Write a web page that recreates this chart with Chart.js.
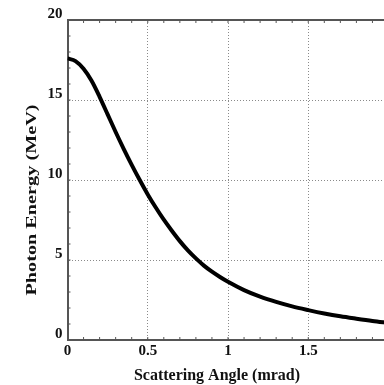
<!DOCTYPE html>
<html lang="en">

<head>
    <meta charset="UTF-8">
    <title>Photon Energy vs Scattering Angle</title>
    <style>
        html, body { margin: 0; padding: 0; background: #fff; overflow: hidden; }
        .grafico { position: relative; width: 400px; height: 385px; }
    </style>
</head>

<body>
    <div class="grafico">
        <canvas id="myChart"></canvas>
    </div>

    <script src="https://cdn.jsdelivr.net/npm/chart.js"></script>

    <script>
        // angulo de espalhamento (mrad) e energia do foton (MeV)
        const angulos = [0, 0.05, 0.1, 0.15, 0.2, 0.25, 0.3, 0.35, 0.4, 0.45, 0.5, 0.55, 0.6, 0.65, 0.7, 0.75, 0.8, 0.85, 0.9, 0.95, 1.0, 1.1, 1.2, 1.3, 1.4, 1.5, 1.6, 1.7, 1.8, 1.9, 2.0]
        const energias = [17.6, 17.43, 16.95, 16.2, 15.2, 14.1, 13.0, 11.95, 10.95, 10.0, 9.1, 8.28, 7.52, 6.83, 6.18, 5.6, 5.1, 4.65, 4.27, 3.94, 3.64, 3.12, 2.71, 2.38, 2.1, 1.87, 1.66, 1.48, 1.33, 1.19, 1.07]

        const xTicks = [0, 0.5, 1, 1.5, 2]
        const yTicks = [0, 5, 10, 15, 20]

        const pontos = angulos.map((a, i) => ({ x: a, y: energias[i] }))

        const fonteTicks = { family: 'Liberation Serif', weight: 'bold', size: 15 }
        const corEixo = '#555'

        // grade pontilhada só nas marcas internas
        const corGrade = (ctx) => {
            const v = ctx.tick ? ctx.tick.value : null
            return (v === 0 || v === 20 || v === 2) ? 'rgba(0,0,0,0)' : '#8a8a8a'
        }

        // moldura superior/direita e marquinhas para dentro
        const molduraPlugin = {
            id: 'moldura',
            afterDatasetsDraw(chart) {
                const { ctx, chartArea: a, scales } = chart
                ctx.save()
                ctx.setLineDash([])
                ctx.strokeStyle = corEixo
                ctx.lineWidth = 2
                ctx.beginPath()
                ctx.moveTo(a.left, a.top)
                ctx.lineTo(a.right, a.top)
                ctx.lineTo(a.right, a.bottom)
                ctx.stroke()

                ctx.lineWidth = 1
                ctx.beginPath()
                for (let i = 1; i < 20; i++) {
                    const x = scales.x.getPixelForValue(i / 10)
                    ctx.moveTo(x, a.bottom)
                    ctx.lineTo(x, a.bottom - 3)
                    ctx.moveTo(x, a.top)
                    ctx.lineTo(x, a.top + 3)
                }
                for (let j = 1; j < 20; j++) {
                    const y = scales.y.getPixelForValue(j)
                    ctx.moveTo(a.left, y)
                    ctx.lineTo(a.left + 3, y)
                    ctx.moveTo(a.right, y)
                    ctx.lineTo(a.right - 3, y)
                }
                ctx.stroke()
                ctx.restore()
            },
            afterDraw(chart) {
                const { ctx } = chart
                ctx.save()
                ctx.fillStyle = '#111'
                ctx.textAlign = 'center'
                ctx.textBaseline = 'alphabetic'

                ctx.font = 'bold 16px "Liberation Serif"'
                ctx.fillText('Scattering Angle (mrad)', 217, 380)

                ctx.translate(36, 200)
                ctx.rotate(-Math.PI / 2)
                ctx.scale(1.35, 1)
                ctx.font = 'bold 15px "Liberation Serif"'
                ctx.fillText('Photon Energy (MeV)', 0, 0)
                ctx.restore()
            }
        }

        new Chart(document.getElementById('myChart'), {
            type: 'line',
            data: {
                datasets: [{
                    label: 'Photon Energy',
                    data: pontos,
                    borderColor: '#000',
                    borderWidth: 4,
                    pointRadius: 0,
                    cubicInterpolationMode: 'monotone',
                    fill: false
                }]
            },
            options: {
                responsive: true,
                maintainAspectRatio: false,
                animation: false,
                layout: { padding: { top: 20, right: 11.5, left: 0, bottom: 0 } },
                plugins: {
                    legend: { display: false },
                    tooltip: { enabled: false }
                },
                scales: {
                    x: {
                        type: 'linear',
                        min: 0,
                        max: 2,
                        afterBuildTicks: (s) => { s.ticks = xTicks.map((v) => ({ value: v })) },
                        afterFit: (s) => { s.height = 45 },
                        ticks: {
                            font: fonteTicks,
                            color: '#111',
                            padding: 2,
                            maxRotation: 0,
                            callback: (v) => (v === 2 ? '' : String(v))
                        },
                        grid: {
                            color: corGrade,
                            lineWidth: 1,
                            drawTicks: false
                        },
                        border: { display: true, color: corEixo, width: 2, dash: [1, 2] }
                    },
                    y: {
                        min: 0,
                        max: 20,
                        afterBuildTicks: (s) => { s.ticks = yTicks.map((v) => ({ value: v })) },
                        afterFit: (s) => { s.width = 67.5 },
                        ticks: {
                            font: fonteTicks,
                            color: '#111',
                            padding: 5,
                            labelOffset: -6
                        },
                        grid: {
                            color: corGrade,
                            lineWidth: 1,
                            drawTicks: false
                        },
                        border: { display: true, color: corEixo, width: 2, dash: [1, 2] }
                    }
                }
            },
            plugins: [molduraPlugin]
        });
    </script>
</body>

</html>
